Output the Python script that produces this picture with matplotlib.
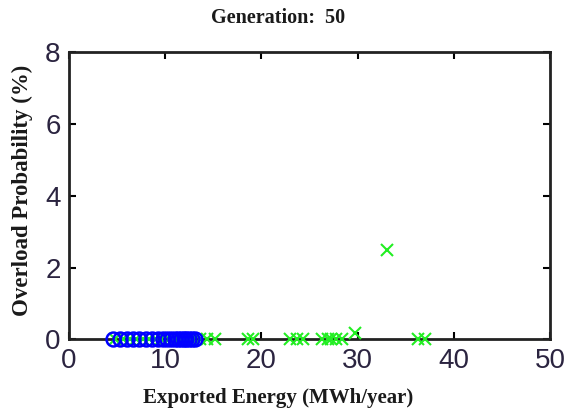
import matplotlib
matplotlib.use("Agg")
import matplotlib.pyplot as plt

# pareto front (blue circles) at generation 50
front_x = [4.6, 5.3, 6.0, 6.6, 7.3, 8.0, 8.6, 9.3, 9.8, 10.2, 10.6, 11.0,
           11.3, 11.6, 11.9, 12.2, 12.5, 12.8, 13.1]
front_y = [0.0] * len(front_x)

# population (green crosses)
pop_x = [4.8, 5.6, 6.3, 7.0, 7.7, 8.3, 9.0, 9.6, 10.4, 10.8, 11.1, 11.4,
         11.7, 12.0, 12.3, 12.6, 12.9, 13.6, 14.3, 15.2, 18.6, 19.1, 23.0,
         23.7, 24.3, 26.3, 26.9, 27.2, 27.7, 28.4, 36.3, 37.0, 29.7, 33.0]
pop_y = [0.0] * 32 + [0.18, 2.5]

fig = plt.figure(figsize=(5.68, 4.16), dpi=100)
ax = fig.add_axes([0.1215, 0.184, 0.847, 0.691])

ax.plot(pop_x, pop_y, 'x', color='#22ee22', markersize=9, markeredgewidth=1.5,
        zorder=3, clip_on=False)
ax.plot(front_x, front_y, 'o', markerfacecolor='none', markeredgecolor='#0000ff',
        markersize=10, markeredgewidth=1.8, zorder=4, clip_on=False)

ax.set_xlim(0, 50)
ax.set_ylim(0, 8)
ax.set_xticks([0, 10, 20, 30, 40, 50])
ax.set_yticks([0, 2, 4, 6, 8])
ax.tick_params(direction='in', length=5, width=1.5, top=True, right=True,
               labelsize=20, pad=6, labelcolor='#2b2440')
for lab in ax.get_xticklabels() + ax.get_yticklabels():
    lab.set_family(['Liberation Sans Narrow', 'Liberation Sans'])
for sp in ax.spines.values():
    sp.set_linewidth(2)
    sp.set_color('#222222')

serif = dict(family='Liberation Serif', fontweight='bold', color='#1a1a1a')
fig.text(278 / 568, 1 - 18 / 416, 'Generation:  50', ha='center', va='center',
         fontsize=14.5, **serif)
fig.text(278 / 568, 1 - 398 / 416, 'Exported Energy (MWh/year)', ha='center',
         va='center', fontsize=15, **serif)
fig.text(22 / 568, 1 - 190 / 416, 'Overload Probability (%)', ha='center',
         va='center', rotation=90, fontsize=16.5, **serif)

plt.savefig('out.png', dpi=100)
